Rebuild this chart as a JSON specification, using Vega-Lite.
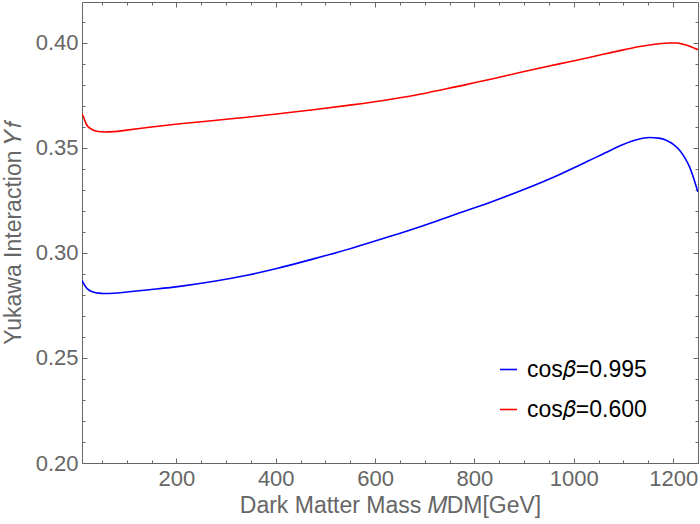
{
  "$schema": "https://vega.github.io/schema/vega-lite/v6.json",
  "width": 616,
  "height": 461,
  "autosize": {"type": "none"},
  "padding": {"left": 82, "top": 2, "right": 2, "bottom": 61},
  "background": "white",
  "data": {
    "values": [
      {"mass": 10, "yf": 0.2870, "series": "cos𝛽=0.995"},
      {"mass": 13, "yf": 0.2855, "series": "cos𝛽=0.995"},
      {"mass": 17, "yf": 0.2840, "series": "cos𝛽=0.995"},
      {"mass": 21, "yf": 0.2829, "series": "cos𝛽=0.995"},
      {"mass": 27, "yf": 0.2819, "series": "cos𝛽=0.995"},
      {"mass": 34, "yf": 0.2813, "series": "cos𝛽=0.995"},
      {"mass": 43, "yf": 0.2809, "series": "cos𝛽=0.995"},
      {"mass": 54, "yf": 0.2807, "series": "cos𝛽=0.995"},
      {"mass": 74, "yf": 0.2808, "series": "cos𝛽=0.995"},
      {"mass": 100, "yf": 0.2814, "series": "cos𝛽=0.995"},
      {"mass": 150, "yf": 0.2826, "series": "cos𝛽=0.995"},
      {"mass": 207, "yf": 0.2841, "series": "cos𝛽=0.995"},
      {"mass": 276, "yf": 0.2865, "series": "cos𝛽=0.995"},
      {"mass": 342, "yf": 0.2894, "series": "cos𝛽=0.995"},
      {"mass": 402, "yf": 0.2926, "series": "cos𝛽=0.995"},
      {"mass": 476, "yf": 0.2972, "series": "cos𝛽=0.995"},
      {"mass": 553, "yf": 0.3023, "series": "cos𝛽=0.995"},
      {"mass": 629, "yf": 0.3078, "series": "cos𝛽=0.995"},
      {"mass": 704, "yf": 0.3136, "series": "cos𝛽=0.995"},
      {"mass": 764, "yf": 0.3186, "series": "cos𝛽=0.995"},
      {"mass": 835, "yf": 0.3244, "series": "cos𝛽=0.995"},
      {"mass": 898, "yf": 0.3301, "series": "cos𝛽=0.995"},
      {"mass": 966, "yf": 0.3368, "series": "cos𝛽=0.995"},
      {"mass": 1031, "yf": 0.3440, "series": "cos𝛽=0.995"},
      {"mass": 1066, "yf": 0.3480, "series": "cos𝛽=0.995"},
      {"mass": 1099, "yf": 0.3516, "series": "cos𝛽=0.995"},
      {"mass": 1126, "yf": 0.3539, "series": "cos𝛽=0.995"},
      {"mass": 1152, "yf": 0.3550, "series": "cos𝛽=0.995"},
      {"mass": 1171, "yf": 0.3547, "series": "cos𝛽=0.995"},
      {"mass": 1186, "yf": 0.3537, "series": "cos𝛽=0.995"},
      {"mass": 1201, "yf": 0.3516, "series": "cos𝛽=0.995"},
      {"mass": 1213, "yf": 0.3489, "series": "cos𝛽=0.995"},
      {"mass": 1223, "yf": 0.3455, "series": "cos𝛽=0.995"},
      {"mass": 1233, "yf": 0.3410, "series": "cos𝛽=0.995"},
      {"mass": 1240, "yf": 0.3365, "series": "cos𝛽=0.995"},
      {"mass": 1248, "yf": 0.3305, "series": "cos𝛽=0.995"},
      {"mass": 1250, "yf": 0.3290, "series": "cos𝛽=0.995"},
      {"mass": 10, "yf": 0.3662, "series": "cos𝛽=0.600"},
      {"mass": 13, "yf": 0.3648, "series": "cos𝛽=0.600"},
      {"mass": 16, "yf": 0.3628, "series": "cos𝛽=0.600"},
      {"mass": 20, "yf": 0.3608, "series": "cos𝛽=0.600"},
      {"mass": 26, "yf": 0.3594, "series": "cos𝛽=0.600"},
      {"mass": 33, "yf": 0.3584, "series": "cos𝛽=0.600"},
      {"mass": 43, "yf": 0.3578, "series": "cos𝛽=0.600"},
      {"mass": 54, "yf": 0.3576, "series": "cos𝛽=0.600"},
      {"mass": 74, "yf": 0.3578, "series": "cos𝛽=0.600"},
      {"mass": 100, "yf": 0.3585, "series": "cos𝛽=0.600"},
      {"mass": 150, "yf": 0.3600, "series": "cos𝛽=0.600"},
      {"mass": 207, "yf": 0.3615, "series": "cos𝛽=0.600"},
      {"mass": 276, "yf": 0.3631, "series": "cos𝛽=0.600"},
      {"mass": 342, "yf": 0.3646, "series": "cos𝛽=0.600"},
      {"mass": 402, "yf": 0.3662, "series": "cos𝛽=0.600"},
      {"mass": 476, "yf": 0.3682, "series": "cos𝛽=0.600"},
      {"mass": 553, "yf": 0.3705, "series": "cos𝛽=0.600"},
      {"mass": 629, "yf": 0.3731, "series": "cos𝛽=0.600"},
      {"mass": 704, "yf": 0.3762, "series": "cos𝛽=0.600"},
      {"mass": 764, "yf": 0.3792, "series": "cos𝛽=0.600"},
      {"mass": 835, "yf": 0.3828, "series": "cos𝛽=0.600"},
      {"mass": 898, "yf": 0.3863, "series": "cos𝛽=0.600"},
      {"mass": 966, "yf": 0.3898, "series": "cos𝛽=0.600"},
      {"mass": 1031, "yf": 0.3931, "series": "cos𝛽=0.600"},
      {"mass": 1086, "yf": 0.3960, "series": "cos𝛽=0.600"},
      {"mass": 1133, "yf": 0.3983, "series": "cos𝛽=0.600"},
      {"mass": 1167, "yf": 0.3995, "series": "cos𝛽=0.600"},
      {"mass": 1193, "yf": 0.4000, "series": "cos𝛽=0.600"},
      {"mass": 1207, "yf": 0.4000, "series": "cos𝛽=0.600"},
      {"mass": 1220, "yf": 0.3994, "series": "cos𝛽=0.600"},
      {"mass": 1236, "yf": 0.3982, "series": "cos𝛽=0.600"},
      {"mass": 1250, "yf": 0.3968, "series": "cos𝛽=0.600"}
    ]
  },
  "layer": [
    {
      "transform": [{"filter": "datum.series === 'cos𝛽=0.995'"}],
      "mark": {"type": "line", "strokeWidth": 1.6, "interpolate": "monotone", "clip": true},
      "encoding": {
        "x": {
          "field": "mass",
          "type": "quantitative",
          "scale": {"domain": [10, 1250], "nice": false, "zero": false},
          "axis": {
            "orient": "bottom",
            "title": "Dark Matter Mass 𝑀DM[GeV]",
            "values": [200, 400, 600, 800, 1000, 1200],
            "format": "d",
            "offset": -5,
            "tickSize": 5,
            "labelPadding": 5,
            "titlePadding": 5
          }
        },
        "y": {
          "field": "yf",
          "type": "quantitative",
          "scale": {"domain": [0.2, 0.4195], "nice": false, "zero": false},
          "axis": {
            "orient": "left",
            "title": "Yukawa Interaction 𝑌𝑓",
            "values": [0.2, 0.25, 0.3, 0.35, 0.4],
            "format": ".2f",
            "offset": -5,
            "tickSize": 5,
            "labelPadding": 4,
            "titlePadding": 10
          }
        },
        "color": {
          "field": "series",
          "type": "nominal",
          "scale": {"domain": ["cos𝛽=0.995", "cos𝛽=0.600"], "range": ["#0000ff", "#ff0000"]},
          "legend": {
            "orient": "none",
            "legendX": 415,
            "legendY": 356,
            "title": null,
            "symbolType": "stroke",
            "symbolSize": 289,
            "symbolStrokeWidth": 1.6,
            "labelFontSize": 23,
            "labelColor": "#000000",
            "labelOffset": 7,
            "rowPadding": 16
          }
        }
      }
    },
    {
      "transform": [{"filter": "datum.series === 'cos𝛽=0.600'"}],
      "mark": {"type": "line", "strokeWidth": 1.6, "interpolate": "monotone", "clip": true},
      "encoding": {
        "x": {
          "field": "mass",
          "type": "quantitative",
          "axis": {
            "orient": "top",
            "title": null,
            "values": [200, 400, 600, 800, 1000, 1200],
            "offset": -5,
            "tickSize": 5,
            "labels": false
          }
        },
        "y": {
          "field": "yf",
          "type": "quantitative",
          "axis": {
            "orient": "right",
            "title": null,
            "values": [0.2, 0.25, 0.3, 0.35, 0.4],
            "offset": -5,
            "tickSize": 5,
            "labels": false
          }
        },
        "color": {"field": "series", "type": "nominal"}
      }
    },
    {
      "mark": {"type": "line", "strokeOpacity": 0},
      "encoding": {
        "x": {
          "field": "mass",
          "type": "quantitative",
          "axis": {
            "orient": "bottom",
            "title": null,
            "values": [50, 100, 150, 250, 300, 350, 450, 500, 550, 650, 700, 750, 850, 900, 950, 1050, 1100, 1150],
            "offset": -3,
            "tickSize": 3,
            "labels": false
          }
        },
        "y": {
          "field": "yf",
          "type": "quantitative",
          "axis": {
            "orient": "left",
            "title": null,
            "values": [0.21, 0.22, 0.23, 0.24, 0.26, 0.27, 0.28, 0.29, 0.31, 0.32, 0.33, 0.34, 0.36, 0.37, 0.38, 0.39, 0.41],
            "offset": -3,
            "tickSize": 3,
            "labels": false
          }
        },
        "detail": {"field": "series", "type": "nominal"}
      }
    },
    {
      "mark": {"type": "line", "strokeOpacity": 0},
      "encoding": {
        "x": {
          "field": "mass",
          "type": "quantitative",
          "axis": {
            "orient": "top",
            "title": null,
            "values": [50, 100, 150, 250, 300, 350, 450, 500, 550, 650, 700, 750, 850, 900, 950, 1050, 1100, 1150],
            "offset": -3,
            "tickSize": 3,
            "labels": false
          }
        },
        "y": {
          "field": "yf",
          "type": "quantitative",
          "axis": {
            "orient": "right",
            "title": null,
            "values": [0.21, 0.22, 0.23, 0.24, 0.26, 0.27, 0.28, 0.29, 0.31, 0.32, 0.33, 0.34, 0.36, 0.37, 0.38, 0.39, 0.41],
            "offset": -3,
            "tickSize": 3,
            "labels": false
          }
        },
        "detail": {"field": "series", "type": "nominal"}
      }
    }
  ],
  "resolve": {"axis": {"x": "independent", "y": "independent"}},
  "config": {
    "font": "Liberation Sans",
    "view": {"stroke": "#666666", "strokeWidth": 1},
    "axis": {
      "domain": false,
      "grid": false,
      "ticks": true,
      "tickColor": "#666666",
      "tickWidth": 1,
      "labelColor": "#666666",
      "labelFont": "Liberation Sans",
      "labelFontSize": 22,
      "labelOverlap": false,
      "labelFlush": false,
      "titleColor": "#666666",
      "titleFont": "Liberation Sans",
      "titleFontSize": 23,
      "titleFontWeight": "normal"
    },
    "legend": {"labelFont": "Liberation Sans"}
  }
}
